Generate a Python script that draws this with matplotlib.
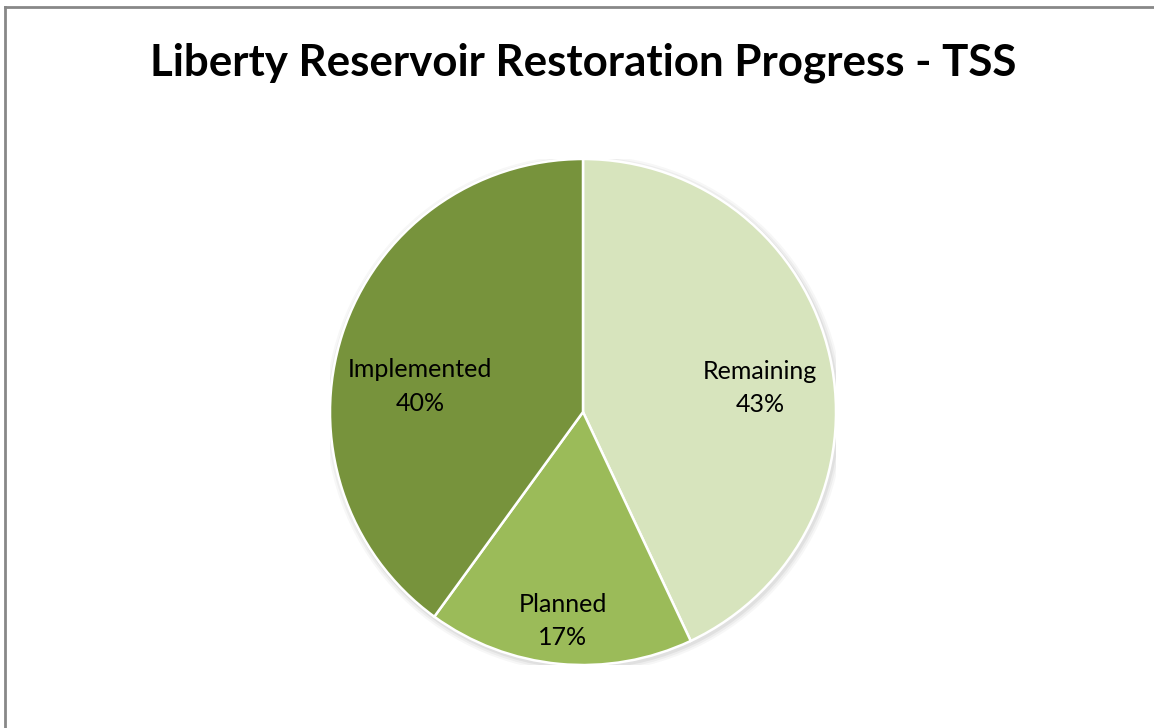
import matplotlib.pyplot as plt
from matplotlib.patches import Circle
from matplotlib.lines import Line2D

# Restoration progress shares (percent)
categories = ["Remaining", "Planned", "Implemented"]
shares = [43, 17, 40]
colors = ["#D7E4BD", "#9BBB59", "#77933C"]

# where each label sits inside the pie (unit-radius coordinates)
label_xy = [(0.70, 0.095), (-0.08, -0.825), (-0.645, 0.10)]

plt.rcParams["font.family"] = ["Lato", "DejaVu Sans"]

fig = plt.figure(figsize=(11.54, 7.28), dpi=100)
fig.patch.set_facecolor("white")

# frame lines on the top and left edge
fig.add_artist(Line2D([0.004, 0.004], [0, 0.991], transform=fig.transFigure,
                      color="#888888", lw=2))
fig.add_artist(Line2D([0.004, 1], [0.991, 0.991], transform=fig.transFigure,
                      color="#888888", lw=2))

fig.text(0.505, 0.914, "Liberty Reservoir Restoration Progress - TSS",
         ha="center", va="center", fontsize=31.6, fontweight="bold")

W, H = 1154, 728
cx, cy, r = 583, 728 - 412, 253
ax = fig.add_axes([(cx - r) / W, (cy - r) / H, 2 * r / W, 2 * r / H])

# soft shadow around the pie
for i, a in enumerate([0.05, 0.04, 0.03]):
    ax.add_patch(Circle((0.006, -0.008), 1.0 + 0.008 * (i + 1),
                        color="black", alpha=a, lw=0, zorder=0))

ax.pie(shares, colors=colors, startangle=90, counterclock=False,
       wedgeprops=dict(edgecolor="white", linewidth=1.8, zorder=2))

for name, val, (x, y) in zip(categories, shares, label_xy):
    ax.text(x, y, f"{name}\n{val}%", ha="center", va="center",
            fontsize=18, linespacing=1.55, zorder=3)

ax.set_xlim(-1, 1)
ax.set_ylim(-1, 1)
ax.set_aspect("equal")
ax.axis("off")

fig.savefig("out.png", dpi=100)
